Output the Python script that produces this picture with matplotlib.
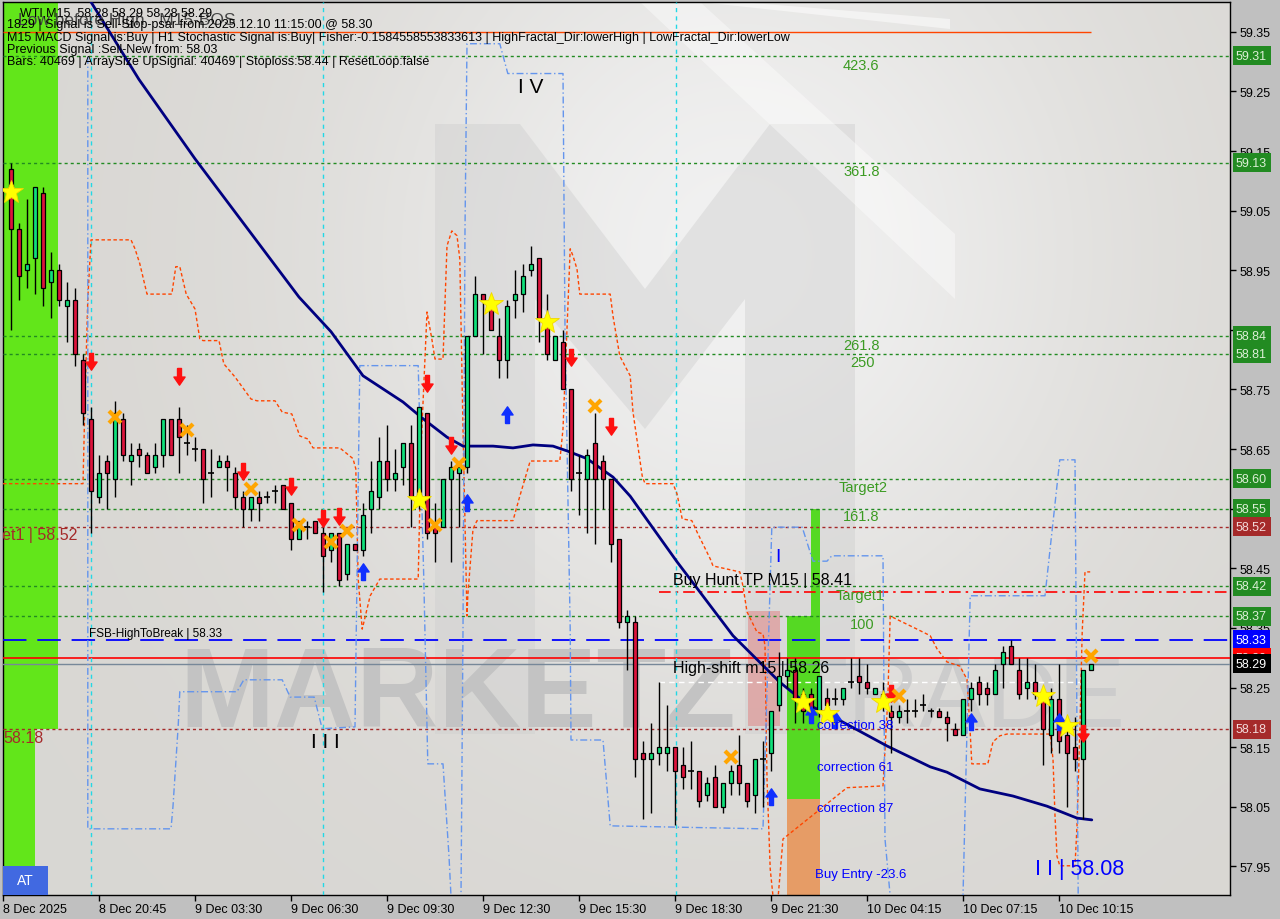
import numpy as np
import matplotlib
matplotlib.use('Agg')
import matplotlib.pyplot as plt
from matplotlib.patches import Rectangle, Polygon
import matplotlib.transforms as mtransforms

plt.rcParams['font.family'] = ['Liberation Sans', 'DejaVu Sans']

# ---------------- data ----------------
opens = [59.12, 59.02, 58.95, 58.97, 59.08, 58.93, 58.95, 58.89, 58.90, 58.80,
         58.70, 58.57, 58.63, 58.60, 58.70, 58.63, 58.65, 58.64, 58.62, 58.64,
         58.70, 58.70, 58.66, 58.65, 58.65, 58.61, 58.62, 58.63, 58.61, 58.57,
         58.55, 58.57, 58.57, 58.58, 58.59, 58.56, 58.50, 58.52, 58.53, 58.51,
         58.48, 58.51, 58.44, 58.49, 58.48, 58.55, 58.57, 58.63, 58.60, 58.62,
         58.66, 58.57, 58.71, 58.52, 58.52, 58.60, 58.61, 58.62, 58.84, 58.91,
         58.90, 58.84, 58.80, 58.90, 58.91, 58.95, 58.97, 58.855, 58.80, 58.83,
         58.75, 58.61, 58.60, 58.66, 58.63, 58.60, 58.50, 58.36, 58.36, 58.14,
         58.13, 58.14, 58.14, 58.15, 58.12, 58.11, 58.11, 58.07, 58.10, 58.05,
         58.09, 58.12, 58.09, 58.07, 58.13, 58.14, 58.22, 58.27, 58.28, 58.24,
         58.24, 58.21, 58.233, 58.23, 58.23, 58.26, 58.27, 58.26, 58.24, 58.24,
         58.21, 58.20, 58.21, 58.21, 58.22, 58.21, 58.21, 58.20, 58.18, 58.17,
         58.23, 58.26, 58.25, 58.24, 58.29, 58.32, 58.28, 58.25, 58.26, 58.23,
         58.17, 58.23, 58.17, 58.15, 58.13, 58.28]
highs = [59.13, 59.03, 59.07, 59.09, 59.09, 58.98, 58.96, 58.93, 58.92, 58.81,
         58.72, 58.64, 58.64, 58.73, 58.71, 58.66, 58.66, 58.645, 58.66, 58.70,
         58.70, 58.72, 58.69, 58.67, 58.65, 58.65, 58.64, 58.64, 58.62, 58.58,
         58.57, 58.58, 58.58, 58.59, 58.59, 58.56, 58.53, 58.53, 58.53, 58.53,
         58.51, 58.51, 58.49, 58.49, 58.56, 58.63, 58.67, 58.69, 58.65, 58.66,
         58.69, 58.72, 58.71, 58.56, 58.60, 58.63, 58.63, 58.84, 58.94, 58.91,
         58.90, 58.87, 58.90, 58.95, 58.96, 58.99, 58.97, 58.91, 58.84, 58.85,
         58.75, 58.64, 58.65, 58.71, 58.64, 58.60, 58.50, 58.38, 58.37, 58.16,
         58.19, 58.26, 58.22, 58.15, 58.15, 58.16, 58.11, 58.10, 58.12, 58.09,
         58.12, 58.17, 58.09, 58.13, 58.16, 58.21, 58.31, 58.30, 58.30, 58.25,
         58.25, 58.27, 58.25, 58.25, 58.25, 58.30, 58.30, 58.29, 58.25, 58.26,
         58.22, 58.22, 58.23, 58.23, 58.24, 58.215, 58.215, 58.21, 58.19, 58.23,
         58.26, 58.27, 58.26, 58.29, 58.32, 58.33, 58.30, 58.30, 58.29, 58.24,
         58.25, 58.29, 58.20, 58.20, 58.28, 58.29]
lows = [58.85, 58.90, 58.92, 58.91, 58.89, 58.87, 58.89, 58.83, 58.79, 58.69,
        58.51, 58.56, 58.55, 58.57, 58.63, 58.59, 58.62, 58.61, 58.61, 58.62,
        58.64, 58.61, 58.64, 58.63, 58.56, 58.57, 58.62, 58.58, 58.55, 58.52,
        58.53, 58.53, 58.56, 58.56, 58.55, 58.48, 58.50, 58.50, 58.51, 58.41,
        58.46, 58.42, 58.43, 58.48, 58.47, 58.51, 58.55, 58.58, 58.58, 58.59,
        58.52, 58.55, 58.50, 58.46, 58.52, 58.46, 58.52, 58.61, 58.84, 58.81,
        58.85, 58.77, 58.77, 58.87, 58.88, 58.94, 58.83, 58.80, 58.80, 58.75,
        58.58, 58.54, 58.51, 58.49, 58.55, 58.46, 58.35, 58.28, 58.10, 58.03,
        58.04, 58.12, 58.11, 58.02, 58.08, 58.08, 58.05, 58.06, 58.05, 58.04,
        58.07, 58.07, 58.05, 58.04, 58.05, 58.11, 58.21, 58.25, 58.19, 58.19,
        58.20, 58.20, 58.21, 58.22, 58.22, 58.25, 58.24, 58.24, 58.24, 58.21,
        58.14, 58.19, 58.19, 58.20, 58.21, 58.20, 58.20, 58.16, 58.17, 58.17,
        58.21, 58.22, 58.22, 58.24, 58.25, 58.29, 58.23, 58.23, 58.23, 58.12,
        58.14, 58.14, 58.05, 58.11, 58.03, 58.28]
closes = [59.02, 58.94, 58.96, 59.09, 58.92, 58.95, 58.90, 58.90, 58.81, 58.71,
          58.58, 58.61, 58.61, 58.71, 58.64, 58.64, 58.64, 58.61, 58.64, 58.70,
          58.64, 58.67, 58.66, 58.65, 58.60, 58.61, 58.63, 58.62, 58.57, 58.55,
          58.57, 58.56, 58.57, 58.58, 58.55, 58.50, 58.53, 58.52, 58.51, 58.47,
          58.51, 58.43, 58.49, 58.48, 58.54, 58.58, 58.63, 58.60, 58.61, 58.66,
          58.57, 58.72, 58.51, 58.51, 58.60, 58.62, 58.62, 58.84, 58.91, 58.90,
          58.85, 58.80, 58.89, 58.91, 58.94, 58.96, 58.87, 58.81, 58.84, 58.75,
          58.60, 58.61, 58.64, 58.60, 58.60, 58.49, 58.36, 58.37, 58.13, 58.13,
          58.14, 58.15, 58.15, 58.11, 58.10, 58.11, 58.06, 58.09, 58.05, 58.09,
          58.11, 58.09, 58.06, 58.13, 58.13, 58.21, 58.27, 58.28, 58.23, 58.21,
          58.21, 58.27, 58.22, 58.23, 58.25, 58.26, 58.26, 58.25, 58.25, 58.23,
          58.20, 58.21, 58.21, 58.21, 58.22, 58.21, 58.20, 58.19, 58.17, 58.23,
          58.25, 58.24, 58.24, 58.28, 58.31, 58.29, 58.24, 58.26, 58.24, 58.18,
          58.23, 58.16, 58.14, 58.13, 58.28, 58.29]

tick_idx = [0, 12, 24, 36, 48, 60, 72, 84, 96, 108, 120, 132]
tick_labels = ['8 Dec 2025', '8 Dec 20:45', '9 Dec 03:30', '9 Dec 06:30',
               '9 Dec 09:30', '9 Dec 12:30', '9 Dec 15:30', '9 Dec 18:30',
               '9 Dec 21:30', '10 Dec 04:15', '10 Dec 07:15', '10 Dec 10:15']
y_ticks = [57.95, 58.05, 58.15, 58.25, 58.35, 58.45, 58.55, 58.65,
           58.75, 58.85, 58.95, 59.05, 59.15, 59.25, 59.35]

ma_idx = [11, 17, 24, 37, 41, 45, 50, 52.5, 55.5, 57.5, 61.25, 63.75, 66.25, 68.75,
          70.5, 73, 76.25, 78.4, 84.25, 91.25, 97.1, 100.5, 103.75, 110.5, 115.9,
          118, 122.1, 126.25, 130.5, 134.25, 136.1]
ma_val = [59.40, 59.27, 59.137, 58.905, 58.847, 58.773, 58.729, 58.701, 58.670,
          58.655, 58.655, 58.652, 58.657, 58.655, 58.647, 58.634, 58.603, 58.571,
          58.461, 58.337, 58.259, 58.222, 58.201, 58.152, 58.117, 58.108, 58.080,
          58.068, 58.051, 58.031, 58.028]

orange_idx = [0, 10.0, 10.25, 10.6, 11.0, 16.0, 16.5, 17.1, 18.0, 21.1,
              21.6, 22.1, 22.9, 24.0, 24.6, 25.0, 27.0, 27.6, 29.0, 31.0,
              31.75, 34.0, 34.9, 36.1, 37.1, 38.1, 38.75, 42.1, 43.75, 44.1,
              44.4, 44.9, 45.9, 47.1, 51.9, 52.25, 53.0, 53.6, 54.0, 55.0,
              55.5, 56.1, 56.75, 57.1, 57.5, 58.0, 58.1, 58.75, 59.25, 63.75,
              64.6, 65.9, 69.6, 70.0, 70.5, 70.9, 71.25, 71.75, 72.1, 75.9,
              76.25, 77.1, 78.4, 78.75, 79.9, 80.25, 83.75, 84.25, 84.9, 86.1,
              86.75, 88.4, 88.75, 92.1, 92.5, 93.0, 94.25, 95.0, 95.25, 95.5,
              95.9, 96.25, 96.9, 97.5, 105.5, 110.0, 110.6, 110.9, 112.1, 114.25,
              115.9, 116.75, 118.0, 119.6, 120.5, 120.9, 121.1, 123.1, 123.75, 124.6,
              125.5, 130.9, 131.25, 131.5, 131.75, 132.1, 134.0, 134.25, 134.6, 134.9,
              135.25, 135.9]
orange_val = [58.592, 58.592, 58.734, 58.902, 59.001, 59.001, 58.986, 58.961, 58.910, 58.910,
              58.956, 58.956, 58.910, 58.885, 58.835, 58.832, 58.832, 58.793, 58.771, 58.734,
              58.731, 58.731, 58.712, 58.709, 58.672, 58.667, 58.652, 58.652, 58.634, 58.617,
              58.432, 58.348, 58.404, 58.432, 58.432, 58.650, 58.880, 58.835, 58.801, 58.801,
              58.991, 59.016, 59.008, 58.969, 58.684, 58.370, 58.404, 58.516, 58.530, 58.530,
              58.571, 58.630, 58.630, 58.684, 58.852, 58.986, 58.974, 58.952, 58.910, 58.910,
              58.873, 58.806, 58.773, 58.712, 58.605, 58.592, 58.592, 58.575, 58.533, 58.530,
              58.511, 58.466, 58.454, 58.444, 58.420, 58.377, 58.343, 58.340, 58.320, 58.097,
              57.946, 57.900, 57.900, 57.996, 58.082, 58.085, 58.231, 58.370, 58.362, 58.348,
              58.337, 58.315, 58.293, 58.286, 58.264, 58.175, 58.122, 58.122, 58.159, 58.169,
              58.172, 58.172, 58.130, 58.035, 57.967, 57.951, 57.951, 58.018, 58.175, 58.343,
              58.444, 58.444]

blue_idx = [10.6, 10.6, 21.0, 21.25, 21.9, 22.1, 29.25, 30.1, 34.9, 35.9,
            38.9, 39.9, 44.0, 44.6, 51.9, 52.6, 53.1, 55.0, 55.75, 56.0,
            57.25, 57.5, 57.75, 58.0, 62.1, 63.1, 70.0, 70.25, 70.9, 71.0,
            75.0, 75.9, 95.0, 96.1, 99.9, 101.25, 103.0, 103.6, 110.0, 110.25,
            110.9, 120.0, 120.9, 130.25, 132.1, 134.0, 134.4]
blue_val = [59.308, 58.013, 58.013, 58.051, 58.186, 58.243, 58.243, 58.263, 58.263, 58.234,
            58.234, 58.181, 58.184, 58.790, 58.790, 58.432, 58.122, 58.122, 57.967, 57.900,
            57.900, 58.348, 59.019, 59.330, 59.330, 59.280, 59.280, 58.852, 58.348, 58.162,
            58.162, 58.018, 58.013, 58.519, 58.519, 58.462, 58.462, 58.471, 58.471, 57.996,
            57.900, 57.900, 58.404, 58.404, 58.632, 58.632, 57.900]

sep_idx = [11, 40, 84.1]

down_idx = [11, 22, 30, 36, 40, 42, 53, 56, 71, 76, 111, 135]
down_val = [58.796, 58.771, 58.612, 58.587, 58.533, 58.536, 58.759, 58.655, 58.803, 58.687, 58.239, 58.172]
up_idx = [45, 58, 63, 96, 101, 104, 121, 132]
up_val = [58.446, 58.561, 58.709, 58.068, 58.206, 58.197, 58.194, 58.194]
cross_idx = [14, 23, 31, 37, 41, 43, 54, 57, 74, 91, 112, 136]
cross_val = [58.704, 58.682, 58.583, 58.523, 58.494, 58.513, 58.523, 58.625, 58.722, 58.134, 58.236, 58.303]
star_idx = [1, 52, 61, 68, 100, 103, 110, 130, 133]
star_val = [59.082, 58.565, 58.894, 58.863, 58.226, 58.206, 58.226, 58.236, 58.186]

green_levels = [59.31, 59.13, 58.84, 58.81, 58.60, 58.55, 58.42, 58.37]
brown_levels = [58.52, 58.18]
fsb_level = 58.33
sell_level = 58.30
bid_level = 58.29
hunt_tp = 58.41
high_shift = 58.26
top_level = 59.35

price_boxes = [(59.31, '#228b22'), (59.13, '#228b22'), (58.84, '#228b22'), (58.81, '#228b22'),
               (58.60, '#228b22'), (58.55, '#228b22'), (58.52, '#a52a2a'), (58.42, '#228b22'),
               (58.37, '#228b22'), (58.33, '#0000ff'), (58.30, '#ff0000'), (58.29, '#000000'),
               (58.18, '#a52a2a')]

fib_labels = ['423.6', '361.8', '261.8', '250', 'Target2', '161.8', 'Target1', '100']
fib_idx = [105.0, 105.0, 105.0, 105.9, 104.4, 105.0, 104.1, 105.9]
fib_val = [59.295, 59.117, 58.825, 58.796, 58.587, 58.538, 58.405, 58.357]

corr_labels = ['correction 38', 'correction 61', 'correction 87', 'Buy Entry -23.6']
corr_idx = [101.75, 101.75, 101.75, 101.5]
corr_val = [58.187, 58.117, 58.048, 57.937]

# ---------------- figure ----------------
W, H = 1280, 920
fig = plt.figure(figsize=(W / 100, H / 100), dpi=100, facecolor='#c0c0c0')
ax = fig.add_axes([3 / W, 1 - 896 / H, (1230 - 3) / W, (896 - 3) / H])
XMIN, XMAX = 0, 153.375
YMIN, YMAX = 57.902, 59.400

# background gradient
u = np.linspace(0, 1, 80)[None, :]
v = np.linspace(1, 0, 80)[:, None]
w = np.exp(-((u - 0.6) ** 2 / 0.10 + (v - 0.72) ** 2 / 0.22))
base = np.array([0.85, 0.843, 0.828])
light = np.array([0.945, 0.945, 0.945])
img = base[None, None, :] * (1 - w[..., None]) + light[None, None, :] * w[..., None]
ax.imshow(img, extent=[XMIN, XMAX, YMIN, YMAX], aspect='auto', zorder=0,
          interpolation='bicubic')


def fp(pts):
    return [(x / W, 1 - y / H) for x, y in pts]


# M-logo watermark (decoration)
ax.add_patch(Polygon(fp([(435, 125), (520, 125), (645, 290), (770, 125), (855, 125),
                         (855, 735), (745, 735), (745, 300), (645, 430), (535, 300),
                         (535, 735), (435, 735)]),
                     closed=True, transform=fig.transFigure, fc='#cfcfcf', ec='none',
                     alpha=0.45, zorder=1))
ax.add_patch(Polygon(fp([(640, 3), (700, 3), (955, 235), (955, 300)]), closed=True,
                     transform=fig.transFigure, fc='white', ec='none', alpha=0.4, zorder=1))
ax.add_patch(Polygon(fp([(700, 3), (740, 3), (950, 20), (950, 30)]), closed=True,
                     transform=fig.transFigure, fc='white', ec='none', alpha=0.5, zorder=1))

# watermark text
ax.text(22.0, 58.186, 'MARKETZ', fontsize=82, fontweight='bold', color='#c3c3c3',
        ha='left', va='baseline', zorder=1)
ax.text(98.0, 58.186, 'TRADE', fontsize=72, color='#cccccc', ha='left',
        va='baseline', zorder=1)
ax.add_patch(Rectangle((93.1, 58.186), 4.0, 0.192, fc='#dea2a2', ec='none',
                       alpha=0.85, zorder=1))

# left green band & AT box
ax.add_patch(Rectangle((0, 58.18), 6.9, YMAX - 58.18, fc='#62e61a', ec='none', zorder=2))
ax.add_patch(Rectangle((0, YMIN), 4.0, 58.18 - YMIN, fc='#62e61a', ec='none', zorder=2))

# green / orange target bar
ax.add_patch(Rectangle((98.0, 58.063), 4.1, 58.37 - 58.063, fc='#55d923', ec='none', zorder=2))
ax.add_patch(Rectangle((101.0, 58.37), 1.1, 58.55 - 58.37, fc='#55d923', ec='none', zorder=2))
ax.add_patch(Rectangle((98.0, YMIN), 4.1, 58.063 - YMIN, fc='#e69c66', ec='none', zorder=2))

# horizontal levels
for lv in green_levels:
    ax.axhline(lv, color='#228b22', lw=1, ls=(0, (2.2, 2.2)), zorder=3)
for lv in brown_levels:
    ax.axhline(lv, color='#a52a2a', lw=1, ls=(0, (2.2, 2.2)), zorder=3)
ax.axhline(fsb_level, color='#0000ff', lw=1.3, ls=(0, (13, 6)), zorder=3)
ax.axhline(sell_level, color='#ff0000', lw=1.2, zorder=3)
ax.axhline(bid_level, color='#778899', lw=1.0, zorder=3)
ax.hlines(hunt_tp, 82, XMAX, color='#ff0000', lw=1.2, ls=(0, (7, 3, 1.5, 3)), zorder=3)
ax.hlines(high_shift, 82, 135.5, color='white', lw=1.0, ls=(0, (4, 3)), zorder=3)
ax.hlines(top_level, 0, 136, color='#ff4500', lw=1.0, zorder=3)

# period separators
for sx in sep_idx:
    ax.axvline(sx, color='#22d8e6', lw=1, ls=(0, (3, 3)), zorder=3)

# channels
ax.plot(orange_idx, orange_val, color='#ff4500', lw=1, ls=(0, (2.5, 1.8)), zorder=3)
ax.plot(blue_idx, blue_val, color='#6495ed', lw=1, ls=(0, (5, 2, 1, 2)), zorder=3)

# moving average
ax.plot(ma_idx, ma_val, color='#000080', lw=2, zorder=4, solid_capstyle='round')

# candles
o = np.array(opens); h = np.array(highs); l = np.array(lows); c = np.array(closes)
idx = np.arange(1, len(o) + 1)
ax.vlines(idx, l, h, color='black', lw=1, zorder=5)
up = c > o
dn = c < o
eq = c == o
ax.bar(idx[up], (c - o)[up], bottom=o[up], width=0.62, color='#10e07a',
       edgecolor='black', lw=0.9, zorder=6)
ax.bar(idx[dn], (o - c)[dn], bottom=c[dn], width=0.62, color='#dc143c',
       edgecolor='black', lw=0.9, zorder=6)
ax.hlines(c[eq], idx[eq] - 0.35, idx[eq] + 0.35, color='black', lw=1.2, zorder=6)

# signal markers
down_arrow = [(-0.22, 1.0), (0.22, 1.0), (0.22, 0.05), (0.62, 0.05), (0, -0.85),
              (-0.62, 0.05), (-0.22, 0.05), (-0.22, 1.0)]
up_arrow = [(x, -y) for x, y in down_arrow]
ax.plot(down_idx, down_val, ls='none', marker=down_arrow, ms=13, color='#ff1010',
        mec='#ff1010', zorder=8)
ax.plot(up_idx, up_val, ls='none', marker=up_arrow, ms=13, color='#1030ff',
        mec='#1030ff', zorder=8)
ax.plot(cross_idx, cross_val, ls='none', marker='x', ms=9, mew=3, color='#ffa500', zorder=8)
ax.plot(star_idx, star_val, ls='none', marker='*', ms=18, color='#ffff00',
        mec='#f2d600', mew=0.6, zorder=8)

# in-chart labels
for s, xi, yv in zip(fib_labels, fib_idx, fib_val):
    ax.text(xi, yv, s, fontsize=10.5, color='#3b9b22', ha='left', va='center', zorder=9)
for s, xi, yv in zip(corr_labels, corr_idx, corr_val):
    ax.text(xi, yv, s, fontsize=9.5, color='#0000ff', ha='left', va='center', zorder=9)
ax.text(83.75, 58.432, 'Buy Hunt TP M15 | 58.41', fontsize=11.5, color='black',
        ha='left', va='center', zorder=9)
ax.text(83.75, 58.283, 'High-shift m15 | 58.26', fontsize=11.5, color='black',
        ha='left', va='center', zorder=9)
ax.text(10.75, 58.342, 'FSB-HighToBreak | 58.33', fontsize=8.5, color='black',
        ha='left', va='center', zorder=9)
ax.text(9.3, 58.506, 'Target1 | 58.52', fontsize=11.5, color='#a52a2a',
        ha='right', va='center', zorder=9, clip_on=True)
ax.text(0.1, 58.167, '58.18', fontsize=11.5, color='#a52a2a', ha='left', va='center', zorder=9)
ax.text(66.0, 59.259, 'I V', fontsize=15, color='black', ha='center', va='center', zorder=9)
ax.text(40.25, 58.159, 'I I I', fontsize=15, color='black', ha='center', va='center', zorder=9)
ax.text(129.0, 57.946, 'I I | 58.08', fontsize=15.5, color='#0000ff', ha='left',
        va='center', zorder=9)
ax.text(96.9, 58.47, 'I', fontsize=14, color='#0000ff', ha='center', va='center', zorder=9)

# AT box
ax.add_patch(Rectangle((0, YMIN), 5.6, 0.049, fc='#4169e1', ec='none', zorder=9))
ax.text(2.8, YMIN + 0.0245, 'AT', fontsize=10, color='white', ha='center', va='center', zorder=10)

# top-left info text
def ftxt(x, y, s, **kw):
    fig.text(x / W, 1 - y / H, s, va='center', ha='left', zorder=20, **kw)

ftxt(18, 21, 'Low before High   M15-BOS', fontsize=12.5, color='#454545')
ftxt(20, 13, 'WTI,M15  58.28 58.29 58.28 58.29', fontsize=9, color='black')
ftxt(7, 25, '1829 | Signal is Sell-Stop-psar from:2025.12.10 11:15:00 @ 58.30',
     fontsize=9, color='black')
ftxt(7, 38, 'M15 MACD Signal is:Buy | H1 Stochastic Signal is:Buy| Fisher:-0.1584558553833613 '
     '| HighFractal_Dir:lowerHigh | LowFractal_Dir:lowerLow', fontsize=9, color='black')
ftxt(7, 50, 'Previous Signal :Sell-New from: 58.03', fontsize=9, color='black')
ftxt(7, 62, 'Bars: 40469 | ArraySize UpSignal: 40469 | Stoploss:58.44 | ResetLoop:false',
     fontsize=9, color='black')

# axes styling
ax.set_xlim(XMIN, XMAX)
ax.set_ylim(YMIN, YMAX)
ax.yaxis.tick_right()
ax.set_yticks(y_ticks)
ax.set_yticklabels([f'{t:.2f}' for t in y_ticks])
ax.set_xticks(tick_idx)
ax.set_xticklabels(tick_labels)
for t in ax.get_xticklabels():
    t.set_ha('left')
ax.tick_params(axis='both', labelsize=9, length=4, width=1, color='black', labelcolor='black')
ax.tick_params(axis='x', pad=2)
ax.tick_params(axis='y', pad=3)
for sp in ax.spines.values():
    sp.set_color('black')
    sp.set_linewidth(1)

# right-axis price boxes
trans = mtransforms.blended_transform_factory(ax.transAxes, ax.transData)
for pv, col in price_boxes:
    tc = 'white' if col in ('#000000', '#0000ff') else '#dcefd6'
    if col == '#a52a2a' or col == '#ff0000':
        tc = '#f3d9d9'
    ax.text(1.0049, pv, f'{pv:.2f}', transform=trans, fontsize=9, color=tc,
            ha='left', va='center', clip_on=False, zorder=30,
            bbox=dict(boxstyle='square,pad=0.28', fc=col, ec='none'))

fig.savefig('out.png', dpi=100, facecolor=fig.get_facecolor())
